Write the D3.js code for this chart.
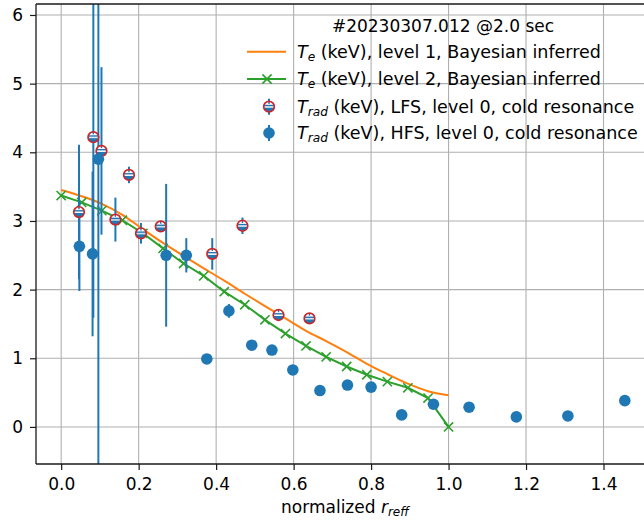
<!DOCTYPE html>
<html><head><meta charset="utf-8">
<script src="https://cdn.jsdelivr.net/npm/d3@7"></script>
<style>
body{margin:0;background:#fff}
text{font-family:"DejaVu Sans",sans-serif;fill:#000}
</style>
</head><body>
<svg id="c" width="644" height="524"></svg>
<script>
// ---------- data ----------
const levelGrid = [0.000,0.053,0.105,0.158,0.211,0.263,0.316,0.368,0.421,0.474,0.526,0.579,0.632,0.684,0.737,0.789,0.842,0.895,0.947,1.000];
const level1Te  = [3.45,3.36,3.25,3.09,2.88,2.68,2.49,2.31,2.13,1.94,1.76,1.58,1.40,1.25,1.09,0.92,0.77,0.63,0.52,0.46];
const level2Te  = [3.37,3.27,3.15,3.01,2.82,2.60,2.38,2.20,1.97,1.78,1.56,1.36,1.18,1.02,0.88,0.76,0.66,0.57,0.42,0.00];

const lfsR   = [0.046,0.083,0.104,0.140,0.175,0.206,0.257,0.390,0.468,0.561,0.641];
const lfsT   = [3.13,4.22,4.02,3.02,3.67,2.82,2.92,2.52,2.93,1.63,1.58];
const lfsErr = [0.98,2.63,1.22,0.32,0.12,0.15,0.08,0.23,0.12,0.05,0.05];

const hfsR   = [0.047,0.081,0.096,0.271,0.323,0.376,0.433,0.492,0.544,0.598,0.668,0.739,0.800,0.879,0.961,1.053,1.175,1.308,1.455];
const hfsT   = [2.63,2.52,3.90,2.50,2.50,0.99,1.69,1.19,1.12,0.83,0.53,0.61,0.58,0.175,0.33,0.287,0.146,0.16,0.383];
const hfsErr = [0.65,1.20,4.60,1.04,0.25,0,0.10,0,0,0,0,0,0,0,0,0,0,0,0];

const xTicks = [0.0,0.2,0.4,0.6,0.8,1.0,1.2,1.4];
const yTicks = [0,1,2,3,4,5,6];
const legendTitle = "#20230307.012 @2.0 sec";

// ---------- setup ----------
const C0="#1f77b4", C1="#ff7f0e", C2="#2ca02c", C3="#c8282d";
const svg=d3.select("#c");
const L=36, R=650, T=4, B=464;
const x=d3.scaleLinear().domain([-0.065,1.52]).range([L,R]);
const y=d3.scaleLinear().domain([-0.54,6.16]).range([B,T]);
const FS=17, LFS=17.5;

svg.append("defs").append("clipPath").attr("id","pc")
  .append("rect").attr("x",L).attr("y",T).attr("width",R-L).attr("height",B-T);

// grid
const grid=svg.append("g").attr("stroke","#b0b0b0").attr("stroke-width",1.1);
xTicks.forEach(v=>grid.append("line").attr("x1",x(v)).attr("x2",x(v)).attr("y1",T).attr("y2",B));
yTicks.forEach(v=>grid.append("line").attr("x1",L).attr("x2",R).attr("y1",y(v)).attr("y2",y(v)));

const plot=svg.append("g").attr("clip-path","url(#pc)");

// level 1 line
plot.append("path").datum(levelGrid.map((r,i)=>[r,level1Te[i]]))
  .attr("d",d3.line().x(d=>x(d[0])).y(d=>y(d[1])).curve(d3.curveMonotoneX))
  .attr("fill","none").attr("stroke",C1).attr("stroke-width",2);
// level 2 line + x markers
const l2=levelGrid.map((r,i)=>[r,level2Te[i]]);
plot.append("path").datum(l2).attr("d",d3.line().x(d=>x(d[0])).y(d=>y(d[1])))
  .attr("fill","none").attr("stroke",C2).attr("stroke-width",2);
const xs=4.6;
const xMark=`M${-xs},${-xs}L${xs},${xs}M${-xs},${xs}L${xs},${-xs}`;
plot.selectAll(".xm").data(l2).join("path").attr("class","xm")
  .attr("transform",d=>`translate(${x(d[0])},${y(d[1])})`).attr("d",xMark)
  .attr("stroke",C2).attr("stroke-width",1.6).attr("fill","none");

// error bars
function errBars(rs,ts,es){
  rs.forEach((r,i)=>{ if(es[i]>0) plot.append("line").attr("x1",x(r)).attr("x2",x(r))
     .attr("y1",y(ts[i]-es[i])).attr("y2",y(ts[i]+es[i])).attr("stroke",C0).attr("stroke-width",2); });
}
errBars(lfsR,lfsT,lfsErr);
errBars(hfsR,hfsT,hfsErr);

// LFS marker
const mr=5.3;
function lfsMarker(g){
  g.append("circle").attr("r",mr).attr("fill","#fff");
  g.append("path").attr("d",d3.arc()({innerRadius:0,outerRadius:mr,startAngle:Math.PI/2,endAngle:Math.PI*1.5})).attr("fill",C0);
  g.append("line").attr("x1",-mr).attr("x2",mr).attr("y1",-1.2).attr("y2",-1.2).attr("stroke",C0).attr("stroke-width",1.4);
  g.append("line").attr("x1",-mr).attr("x2",mr).attr("y1",0.5).attr("y2",0.5).attr("stroke","#fff").attr("stroke-width",1);
  g.append("line").attr("x1",0).attr("x2",0).attr("y1",-mr).attr("y2",-mr+2.5).attr("stroke",C0).attr("stroke-width",1.4);
  g.append("circle").attr("r",mr).attr("fill","none").attr("stroke",C3).attr("stroke-width",1.7);
}
lfsR.forEach((r,i)=>{ lfsMarker(plot.append("g").attr("transform",`translate(${x(r)},${y(lfsT[i])})`)); });
// HFS markers
plot.selectAll(".hf").data(hfsR).join("circle").attr("class","hf")
  .attr("cx",d=>x(d)).attr("cy",(d,i)=>y(hfsT[i])).attr("r",5.8).attr("fill",C0);

// spines
const sp=svg.append("g").attr("stroke","#1a1a1a").attr("stroke-width",1.3).attr("fill","none");
sp.append("line").attr("x1",L).attr("x2",L).attr("y1",T).attr("y2",B);
sp.append("line").attr("x1",L).attr("x2",R).attr("y1",B).attr("y2",B);
sp.append("line").attr("x1",L).attr("x2",R).attr("y1",T).attr("y2",T);

// axes
const ax=svg.append("g").attr("transform",`translate(0,${B})`)
  .call(d3.axisBottom(x).tickValues(xTicks).tickFormat(d3.format(".1f")).tickSize(6).tickPadding(8));
const ay=svg.append("g").attr("transform",`translate(${L},0)`)
  .call(d3.axisLeft(y).tickValues(yTicks).tickFormat(d3.format("d")).tickSize(6).tickPadding(7));
[ax,ay].forEach(a=>{a.select(".domain").remove();
  a.selectAll("line").attr("stroke","#1a1a1a").attr("stroke-width",1.2);
  a.selectAll("text").attr("font-size",FS).attr("font-family","DejaVu Sans").attr("fill","#1a1a1a");});

// x label
const xl=svg.append("text").attr("x",(L+R)/2+2).attr("y",512.5).attr("text-anchor","middle").attr("font-size",FS);
xl.append("tspan").text("normalized ");
xl.append("tspan").attr("font-style","italic").text("r");
xl.append("tspan").attr("font-style","italic").attr("font-size",12).attr("dy",3.5).text("reff");

// legend
const lg=svg.append("g");
lg.append("text").attr("x",443).attr("y",32.3).attr("text-anchor","middle").attr("font-size",FS).text(legendTitle);
const rowsY=[51.7,79,106.7,133];
function labelRow(yc, sub, rest){
  const t=lg.append("text").attr("x",297).attr("y",yc+5.9).attr("font-size",LFS);
  t.append("tspan").attr("font-style","italic").text("T");
  t.append("tspan").attr("font-style","italic").attr("font-size",12.2).attr("dy",3.5).text(sub);
  t.append("tspan").attr("dy",-3.5).text(rest);
}
lg.append("line").attr("x1",247).attr("x2",286).attr("y1",rowsY[0]).attr("y2",rowsY[0]).attr("stroke",C1).attr("stroke-width",2);
labelRow(rowsY[0],"e"," (keV), level 1, Bayesian inferred");
lg.append("line").attr("x1",247).attr("x2",286).attr("y1",rowsY[1]).attr("y2",rowsY[1]).attr("stroke",C2).attr("stroke-width",2);
lg.append("path").attr("transform",`translate(267,${rowsY[1]})`).attr("d",xMark).attr("stroke",C2).attr("stroke-width",1.6);
labelRow(rowsY[1],"e"," (keV), level 2, Bayesian inferred");
lg.append("line").attr("x1",269).attr("x2",269).attr("y1",rowsY[2]-8).attr("y2",rowsY[2]+8).attr("stroke",C0).attr("stroke-width",2);
lfsMarker(lg.append("g").attr("transform",`translate(269,${rowsY[2]})`));
labelRow(rowsY[2],"rad"," (keV), LFS, level 0, cold resonance");
lg.append("line").attr("x1",269).attr("x2",269).attr("y1",rowsY[3]-8).attr("y2",rowsY[3]+8).attr("stroke",C0).attr("stroke-width",2);
lg.append("circle").attr("cx",269).attr("cy",rowsY[3]).attr("r",5.8).attr("fill",C0);
labelRow(rowsY[3],"rad"," (keV), HFS, level 0, cold resonance");
</script>
</body></html>
